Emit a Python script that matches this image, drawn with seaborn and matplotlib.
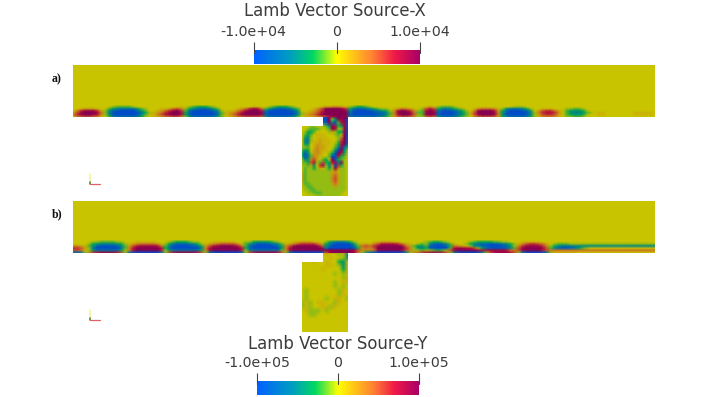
import numpy as np
import matplotlib
matplotlib.use('Agg')
import matplotlib.pyplot as plt
from matplotlib.cm import ScalarMappable
from matplotlib.colors import LinearSegmentedColormap, Normalize
import seaborn as sns

# Field values, one string per row, blanks are only for reading.
# 0 = zero, 1..9 = positive up to full scale, a..i = negative down to full scale
band_a = [
    "0000000000 0000000000 0000000000 0000000000 0000000000 0000000000 0000000000 0000000000 0000000000 0000000000 0000000000 0000000000 0000000000 0000000000 000000",
    "0000000000 abbbba0000 000000010a bcccba0000 000001100a bcccba0000 001223321a bccba00000 0000000012 1abbba0000 0000000000 aaa0000000 0000000000 0000000000 000000",
    "001222100b deffffdba0 00112453ac efggfdb000 01246874bd fghgfdb000 1359999 86c fggfecbaa0 1243210a57 5cefecba00 1344431adf ffeca00111 000aabba00 0000000000 000000",
    "03688862ad ghiiiigdb0 01246896bf hiiihgea01 13579997fh iiiihgd001 246999998e hiiihgfdca 279863ab79 7fhihgeca0 3899972cgi iihgd02566 420bdddca0 0000000000 000000",
    "258999 84ae hiiiiihfca 12468997cg iiiiihfb12 35799998gi iiiiihea12 357999999f iiiiihggeb 389984bb89 8giiihfdb1 5999983dhi iiihea3677 630bdeedba 0110000000 111110",
    "36899873ad hiiiiiheb1 13578997cg iiiiiigb12 46899998gi iiiiihea23 468999999g iiiiiihgeb 379985ab89 8giiihfdb1 5899983dhi iiihea2566 520bcddca0 0110000000 111110",
    "134554310b efffffeca0 11234553ad fffffeca01 23455554df ffffedb011 234578998e ffffffedca 245542aa45 4dfffedba0 2455542cef fffeca1333 310aabba00 0000000000 000000",
]
chamber_a = [
    "000aa00abe87cd8i", "00abbba0ab98aa8i", "0accb0000a2acc8i", "0bdb0111000ab19i",
    "0dea01111000a49h", "0efa11211100b69h", "0dd01221110ac79g", "aab01322100be8gc",
    "bdc0232110adi9ea", "cgea23210ach97d0", "chfb32100bhi7cb0", "aed3520bc09hcba0",
    "abc57ab5cc78e9a0", "aab2d068ae3i6ca0", "0baaca21aca93aa0", "1baaaaaaaa231aa0",
    "2baaaaaaaa242aa0", "2baaaaaaaa352aa0", "2baaaaaaaa352aa0", "1bbaaaaaaa242aa0",
    "1abbaaaaaaa2aaa0", "0aabbaaaaaaaaaa0", "00aabbbaaaaaaa00", "00000aaaaaaaa000",
]
neck_a = ["ii8999999", "ii9ad989i", "gh9ehb78i", "abe87cd8i"]

band_b = [
    "0000000000 0000000000 0000000000 0000000000 0000000000 0000000000 0000000000 0000000000 0000000000 0000000000 0000000000 0000000000 0000000000 0000000000 000000",
    "00000aabbb baa0001111 1000abcccb aa00011111 100aacdddc ba00011222 110aceffec a000011222 11000000ab ccba00000a bccccbbaa0 0011111000 0000000000 0000000000 000000",
    "0000acdeee edca123444 431acfgggf eca1234555 531bdfhhhg feb1235666 642cfhiiih da12135777 764210abae ghgeb100ac efgghhgfec a135665420 abbbaaaaaa aaaaaaaaaa aaaaaa",
    "3321bdghih hgeb257888 874behiiih gfc2578999 874bfhiiii hfc3589999 985dgiiiii fb45468999 99842bddbg hiigc4321a dfghiiihgd a36888863a cefffeeeee eeeeeeeeee eeeeee",
    "6652afiiii iifb379999 997cfiiiii iie3799999 997cgiiiii iid3799999 998eiiiiii hc34359999 99963adech iiiib78877 5adfhhhhge b58999985b eghhgfdba0 0000000000 000000",
    "5541adffff ffda379999 997adfffff ffc3799999 997aefffff ffb3799999 9999999999 8533348999 99853aabaa bcba589999 9878888874 4589999754 4444444444 4444444444 444444",
    "ggfa367888 875afhiiii iifa578888 875afhiiii iiga578888 875afhiiii iig5899999 84adfhiiii iihea34678 8775afhiii ihea578887 5afhiiihfa 1111110000 0000000000 000000",
]
chamber_b = [
    "000100100cd1", "000000110ad1", "0000010000c1", "00000000a0a1", "0000000000a1",
    "00000000a011", "00000000a0a0", "0a0000000a10", "0a0000000a10", "0a0000a0110a",
    "a1a01100a100", "a1a0011a1000", "01aaa0a00000", "00aa00000000", "000000000000",
    "000000000000", "000000000000", "000000000000",
]
neck_b = ["3333a3c", "0100a1e", "00100ad", "0100cd1"]

titles = ["Lamb Vector Source-X", "Lamb Vector Source-Y"]
tick_values = [-1.0, 0.0, 1.0]
tick_labels_a = ["-1.0e+04", "0", "1.0e+04"]
tick_labels_b = ["-1.0e+05", "0", "1.0e+05"]

cmap_stops = [(0.0, (0.0, 0.38, 1.0)), (0.22, (0.0, 0.62, 0.75)), (0.36, (0.0, 0.85, 0.38)),
              (0.5, (1.0, 1.0, 0.0)), (0.72, (1.0, 0.5, 0.2)), (0.85, (0.94, 0.1, 0.28)),
              (1.0, (0.66, 0.0, 0.4))]
bar_cmap = LinearSegmentedColormap.from_list('bar', cmap_stops)
# the field is drawn with scene lighting so it looks darker than the bar
shade = 0.79
field_stops = [(p, (shade * c[0], 0.975 * shade * c[1], shade * c[2])) for p, c in cmap_stops]
field_cmap = LinearSegmentedColormap.from_list('field', field_stops)

W, H = 705, 397
fig = plt.figure(figsize=(W / 100, H / 100), dpi=100)
sns.set_style('white')


def px_axes(x0, y0, x1, y1):
    return fig.add_axes([x0 / W, 1 - y1 / H, (x1 - x0) / W, (y1 - y0) / H])


def decode(rows):
    out = []
    for row in rows:
        vals = []
        for ch in row.replace(' ', ''):
            if ch.isdigit():
                vals.append((int(ch) / 9) ** 1.2)
            else:
                vals.append(-((ord(ch) - 96) / 9) ** 1.2)
        out.append(vals)
    n = max(len(v) for v in out)
    return np.array([v + [0.0] * (n - len(v)) for v in out])


def draw_field(rows, x0, y0, x1, y1):
    ax = px_axes(x0, y0, x1, y1)
    data = decode(rows)
    sns.heatmap(data, ax=ax, cmap=field_cmap, vmin=-1, vmax=1, cbar=False,
                xticklabels=False, yticklabels=False, shading='gouraud')
    ax.set_xlim(0, data.shape[1] - 1)
    ax.set_ylim(data.shape[0] - 1, 0)
    ax.axis('off')
    return ax


def draw_panel(top, band, neck, chamber, band_top):
    bottom = top + 52
    draw_field(["00", "00"], 73, top, 655, band_top + 0.5)
    draw_field(neck, 323, bottom - 1, 347.5, bottom + 9)
    draw_field(chamber, 302, bottom + 9, 347.5, bottom + 79)
    draw_field(band, 73, band_top, 655, bottom)


def draw_bar(x0, x1, y0, y1, labels, title, title_x, title_y):
    cax = px_axes(x0, y0, x1, y1)
    cb = fig.colorbar(ScalarMappable(Normalize(-1, 1), bar_cmap), cax=cax, orientation='horizontal')
    cb.outline.set_visible(False)
    cb.set_ticks(tick_values)
    cb.set_ticklabels(labels)
    cax.xaxis.set_ticks_position('top')
    cax.tick_params(axis='x', length=5.8, width=0.8, color='#444444', pad=2, labelsize=10.2,
                    labelcolor='#3c3c3c')
    for t in tick_values:
        cax.axvline(t, ymin=0.78, color='#444444', lw=0.8, clip_on=False)
    fig.text(title_x / W, 1 - title_y / H, title, ha='center', va='center',
             fontsize=11.9, color='#3c3c3c')


def draw_triad(x, y):
    ax = fig.add_axes([0, 0, 1, 1], facecolor='none')
    ax.set_xlim(0, W)
    ax.set_ylim(H, 0)
    ax.axis('off')
    ax.plot([x, x], [y - 10, y - 2], color='#f4f08a', lw=1.1)
    ax.plot([x, x], [y - 2, y], color='#3c7a3c', lw=1.1)
    ax.plot([x, x + 10], [y, y], color='#e06060', lw=0.9)


draw_panel(65, band_a, neck_a, chamber_a, 105)
draw_panel(200.5, band_b, neck_b, chamber_b, 240)
draw_bar(253.5, 419.5, 50, 63.5, tick_labels_a, titles[0], 335, 11)
draw_bar(257, 419, 381, 395, tick_labels_b, titles[1], 337.5, 344)
draw_triad(90, 183.5)
draw_triad(90, 319.5)

for label, y in zip(["a)", "b)"], [79, 214]):
    fig.text(52 / W, 1 - y / H, label, family='Liberation Serif', fontweight='bold',
             fontsize=8.5, color='#111111', va='center')

fig.savefig('out.png', dpi=100)
